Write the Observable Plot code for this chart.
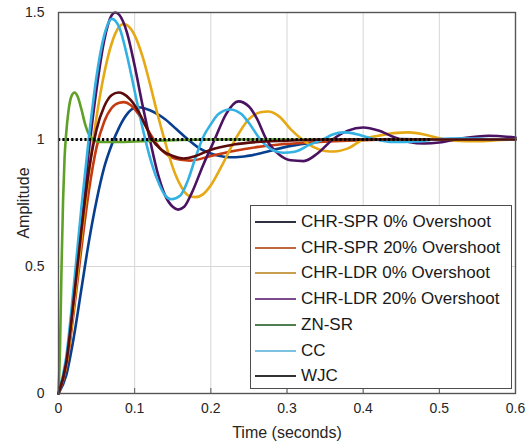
<!DOCTYPE html>
<html>
<head>
<meta charset="utf-8">
<script src="https://cdn.jsdelivr.net/npm/d3@7"></script>
<script src="https://cdn.jsdelivr.net/npm/@observablehq/plot@0.6"></script>
<style>
  html, body { margin: 0; padding: 0; background: #fff; }
  #wrap { position: relative; width: 531px; height: 443px; font-family: "Liberation Sans", Arial, sans-serif; }
  #legend { position: absolute; left: 250px; top: 205px; width: 262px; height: 184px; box-sizing: border-box;
            border: 1.5px solid #4d4d4d; background: #fff; padding-top: 3px; }
  .row { height: 25.75px; display: flex; align-items: center; font-size: 17px; color: #1a1a1a; white-space: nowrap; }
  .sw { display: inline-block; width: 41px; height: 2px; margin-left: 4px; margin-right: 5px; }
</style>
</head>
<body>
<div id="wrap"></div>
<script>
// ---- data ----
const seriesNames = ["CHR-SPR 0% Overshoot", "CHR-SPR 20% Overshoot", "CHR-LDR 0% Overshoot",
  "CHR-LDR 20% Overshoot", "ZN-SR", "CC", "WJC"];
const seriesColors = ["#073f8e", "#c53a10", "#e6a814", "#4b1262", "#5ea126", "#33b1e3", "#5c0b0b"];
const legendColors = ["#2e3240", "#c0683f", "#c9a052", "#7b4a8b", "#4f7f4f", "#7cc2e2", "#333333"];

const spr0T = [0, 0.01, 0.02, 0.03, 0.04, 0.05, 0.06, 0.07, 0.08, 0.09, 0.1, 0.105, 0.12, 0.13, 0.14, 0.155, 0.17, 0.185, 0.2, 0.212, 0.225, 0.24, 0.26, 0.28, 0.3, 0.33, 0.36, 0.4, 0.45, 0.5, 0.6];
const spr0Y = [0, 0.07, 0.22, 0.41, 0.6, 0.76, 0.89, 0.98, 1.05, 1.1, 1.125, 1.127, 1.115, 1.1, 1.08, 1.04, 1.0, 0.965, 0.945, 0.935, 0.93, 0.932, 0.942, 0.957, 0.972, 0.986, 0.996, 1.0, 1.002, 1.0, 1.0];

const spr20T = [0, 0.01, 0.02, 0.03, 0.04, 0.05, 0.06, 0.07, 0.08, 0.086, 0.095, 0.105, 0.115, 0.125, 0.135, 0.145, 0.16, 0.173, 0.2, 0.23, 0.26, 0.29, 0.33, 0.38, 0.45, 0.6];
const spr20Y = [0, 0.1, 0.32, 0.57, 0.8, 0.97, 1.07, 1.125, 1.145, 1.147, 1.135, 1.1, 1.05, 1.0, 0.96, 0.935, 0.92, 0.917, 0.935, 0.955, 0.97, 0.98, 0.988, 0.995, 1.0, 1.0];

const ldr0T = [0, 0.01, 0.02, 0.03, 0.04, 0.05, 0.06, 0.07, 0.08, 0.085, 0.09, 0.1, 0.11, 0.12, 0.13, 0.14, 0.15, 0.16, 0.17, 0.18, 0.19, 0.2, 0.215, 0.232, 0.25, 0.265, 0.275, 0.29, 0.305, 0.32, 0.335, 0.35, 0.362, 0.38, 0.4, 0.42, 0.44, 0.46, 0.48, 0.5, 0.52, 0.55, 0.58, 0.6];
const ldr0Y = [0, 0.11, 0.34, 0.61, 0.87, 1.09, 1.26, 1.38, 1.445, 1.455, 1.45, 1.41, 1.33, 1.22, 1.1, 0.99, 0.89, 0.82, 0.78, 0.773, 0.785, 0.82, 0.9, 1.0, 1.08, 1.107, 1.11, 1.09, 1.04, 1.0, 0.97, 0.955, 0.953, 0.965, 1.0, 1.015, 1.025, 1.028, 1.02, 1.005, 0.995, 0.993, 0.998, 1.0];

const ldr20T = [0, 0.01, 0.02, 0.03, 0.04, 0.05, 0.06, 0.07, 0.0745, 0.08, 0.09, 0.1, 0.11, 0.12, 0.13, 0.14, 0.15, 0.157, 0.165, 0.175, 0.19, 0.205, 0.22, 0.236, 0.25, 0.26, 0.273, 0.29, 0.305, 0.322, 0.34, 0.36, 0.38, 0.4, 0.42, 0.44, 0.46, 0.48, 0.5, 0.53, 0.565, 0.6];
const ldr20Y = [0, 0.12, 0.38, 0.68, 0.96, 1.2, 1.39, 1.49, 1.5, 1.49, 1.42, 1.29, 1.14, 1.0, 0.87, 0.78, 0.735, 0.724, 0.735, 0.79, 0.9, 1.0, 1.1, 1.15, 1.13, 1.085, 1.0, 0.94, 0.918, 0.915, 0.945, 1.0, 1.035, 1.047, 1.035, 1.01, 0.99, 0.984, 0.988, 1.005, 1.015, 1.008];

const znT = [0, 0.002, 0.004, 0.006, 0.008, 0.01, 0.013, 0.017, 0.021, 0.025, 0.03, 0.035, 0.04, 0.045, 0.05, 0.06, 0.08, 0.1, 0.13, 0.16, 0.2, 0.6];
const znY = [0, 0.18, 0.5, 0.76, 0.93, 1.02, 1.11, 1.17, 1.185, 1.17, 1.12, 1.06, 1.02, 1.0, 0.992, 0.99, 0.99, 0.992, 0.995, 0.998, 1.0, 1.0];

const ccT = [0, 0.01, 0.02, 0.03, 0.04, 0.05, 0.06, 0.07, 0.08, 0.09, 0.1, 0.11, 0.12, 0.13, 0.14, 0.148, 0.16, 0.17, 0.18, 0.19, 0.2, 0.21, 0.225, 0.24, 0.25, 0.265, 0.28, 0.295, 0.31, 0.33, 0.347, 0.36, 0.375, 0.39, 0.41, 0.44, 0.47, 0.5, 0.53, 0.56, 0.6];
const ccY = [0, 0.14, 0.42, 0.73, 1.01, 1.25, 1.41, 1.475, 1.44, 1.33, 1.19, 1.05, 0.93, 0.84, 0.78, 0.765, 0.78, 0.84, 0.93, 1.01, 1.06, 1.1, 1.118, 1.1, 1.065, 1.0, 0.96, 0.948, 0.952, 0.98, 1.0, 1.02, 1.028, 1.022, 1.005, 0.99, 0.992, 1.002, 1.005, 1.002, 1.0];

const wjcT = [0, 0.01, 0.02, 0.03, 0.04, 0.05, 0.06, 0.07, 0.079, 0.085, 0.095, 0.105, 0.115, 0.123, 0.135, 0.15, 0.164, 0.18, 0.2, 0.23, 0.26, 0.3, 0.35, 0.6];
const wjcY = [0, 0.12, 0.37, 0.64, 0.88, 1.04, 1.13, 1.175, 1.185, 1.18, 1.155, 1.11, 1.05, 1.0, 0.96, 0.935, 0.925, 0.935, 0.96, 0.98, 0.99, 0.995, 1.0, 1.0];

const seriesT = [spr0T, spr20T, ldr0T, ldr20T, znT, ccT, wjcT];
const seriesY = [spr0Y, spr20Y, ldr0Y, ldr20Y, znY, ccY, wjcY];

const refLevel = 1;
const refStart = 0;
const refEnd = 0.49;

const xTicks = [0, 0.1, 0.2, 0.3, 0.4, 0.5, 0.6];
const xTickLabels = ["0", "0.1", "0.2", "0.3", "0.4", "0.5", "0.6"];
const yTicks = [0, 0.5, 1, 1.5];
const yTickLabels = ["0", "0.5", "1", "1.5"];
const xGrid = [0.1, 0.2, 0.3, 0.4, 0.5];
const yGrid = [0.5, 1];
const xLabel = "Time (seconds)";
const yLabel = "Amplitude";

// ---- build ----
const rows = [];
seriesNames.forEach((name, i) => {
  seriesT[i].forEach((t, j) => rows.push({series: name, t, v: seriesY[i][j]}));
});

const lineMarks = seriesNames.map((name, i) =>
  Plot.line(rows.filter(d => d.series === name), {
    x: "t", y: "v", stroke: seriesColors[i], strokeWidth: 2.6, curve: "monotone-x"
  })
);

const innerH = 443 - 12 - 50;
const tickLen = 5;

const chart = Plot.plot({
  width: 531,
  height: 443,
  marginLeft: 58,
  marginRight: 16,
  marginTop: 12,
  marginBottom: 50,
  style: {fontFamily: "'Liberation Sans', Arial, sans-serif", fontSize: "13.5px", color: "#262626", background: "#fff"},
  x: {domain: [0, 0.6]},
  y: {domain: [0, 1.5]},
  marks: [
    Plot.gridX(xGrid, {stroke: "#d6d6d6", strokeOpacity: 1, strokeWidth: 1}),
    Plot.gridY(yGrid, {stroke: "#d6d6d6", strokeOpacity: 1, strokeWidth: 1}),
    Plot.ruleX(xGrid, {stroke: "#555", strokeWidth: 1, insetTop: innerH - tickLen}),
    ...lineMarks,
    Plot.ruleY([refLevel], {x1: refStart, x2: refEnd, stroke: "#000", strokeWidth: 2.8, strokeDasharray: "2.2,2.2"}),
    Plot.frame({stroke: "#555", strokeWidth: 1.4}),
    Plot.axisX(xTicks, {anchor: "bottom", tickSize: 0, tickPadding: 10, tickFormat: (d, i) => xTickLabels[i],
      label: null, fontSize: 14}),
    Plot.axisY(yTicks, {anchor: "left", tickSize: 0, tickPadding: 14, tickFormat: (d, i) => yTickLabels[i],
      label: null, fontSize: 14}),
    Plot.text([xLabel], {frameAnchor: "bottom", dy: 39, fontSize: 16, fill: "#262626", lineAnchor: "middle", textAnchor: "middle"}),
    Plot.text([yLabel], {frameAnchor: "left", dx: -35, rotate: -90, fontSize: 16, fill: "#262626", lineAnchor: "middle", textAnchor: "middle"})
  ]
});

const wrap = document.getElementById("wrap");
wrap.appendChild(chart);

const legend = document.createElement("div");
legend.id = "legend";
seriesNames.forEach((name, i) => {
  const row = document.createElement("div");
  row.className = "row";
  const sw = document.createElement("span");
  sw.className = "sw";
  sw.style.background = legendColors[i];
  row.appendChild(sw);
  row.appendChild(document.createTextNode(name));
  legend.appendChild(row);
});
wrap.appendChild(legend);
</script>
</body>
</html>
